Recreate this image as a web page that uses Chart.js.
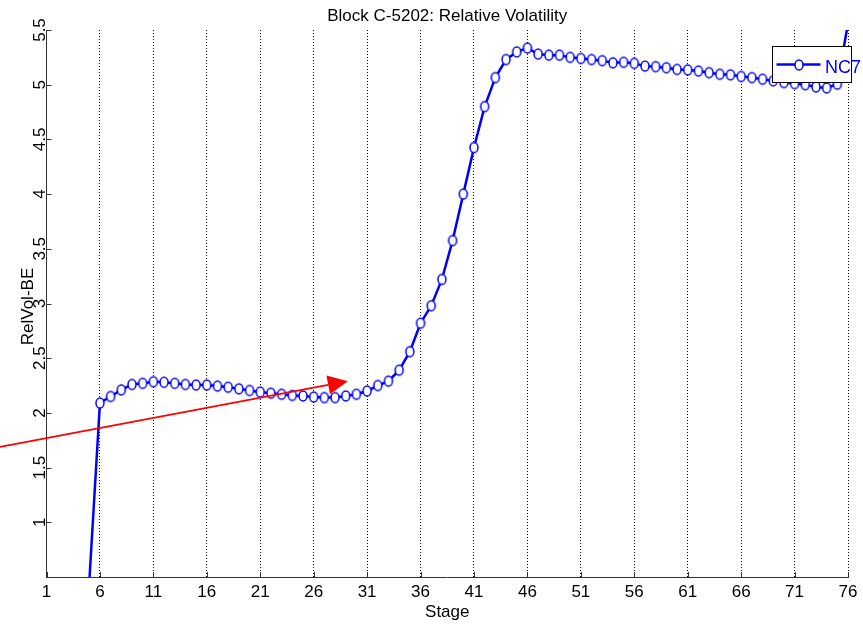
<!DOCTYPE html>
<html>
<head>
<meta charset="utf-8">
<script src="https://cdn.jsdelivr.net/npm/chart.js@4.4.1/dist/chart.umd.min.js"></script>
<style>
  html, body { margin: 0; padding: 0; background: #fff; }
</style>
</head>
<body>
<canvas id="myChart" width="863" height="624"></canvas>
<script>
// stage numbers and relative volatility of NC7
var stages = [5, 6, 7, 8, 9, 10, 11, 12, 13, 14, 15, 16, 17, 18, 19, 20,
    21, 22, 23, 24, 25, 26, 27, 28, 29, 30, 31, 32, 33, 34, 35, 36, 37, 38, 39, 40,
    41, 42, 43, 44, 45, 46, 47, 48, 49, 50, 51, 52, 53, 54, 55, 56, 57, 58, 59, 60,
    61, 62, 63, 64, 65, 66, 67, 68, 69, 70, 71, 72, 73, 74, 75, 76];
var relVolNC7 = [0.45, 2.09, 2.15, 2.21, 2.26, 2.27, 2.285, 2.28, 2.27, 2.26, 2.255, 2.255, 2.245, 2.235, 2.22, 2.205,
    2.19, 2.18, 2.17, 2.16, 2.155, 2.145, 2.14, 2.14, 2.155, 2.17, 2.2, 2.25, 2.29, 2.39, 2.56, 2.82, 2.98, 3.22, 3.575, 4.0,
    4.425, 4.8, 5.065, 5.23, 5.3, 5.335, 5.28, 5.27, 5.27, 5.25, 5.24, 5.23, 5.22, 5.2, 5.205, 5.195, 5.17, 5.165, 5.155, 5.14,
    5.135, 5.125, 5.11, 5.095, 5.09, 5.075, 5.065, 5.05, 5.035, 5.02, 5.01, 5.0, 4.98, 4.97, 5.005, 5.56];
var xTickValues = [1, 6, 11, 16, 21, 26, 31, 36, 41, 46, 51, 56, 61, 66, 71, 76];
var yTickValues = [1, 1.5, 2, 2.5, 3, 3.5, 4, 4.5, 5, 5.5];
var seriesName = 'NC7';
// red annotation arrow, in data units (stage, relvol)
var arrowFrom = [-3.35, 1.69];
var arrowTo = [29.2, 2.29];

var FONT = '"Liberation Sans", Arial, Helvetica, sans-serif';
var BLUE = '#0000ff';

function makeMarker() {
    var c = document.createElement('canvas');
    c.width = 12;
    c.height = 14;
    var g = c.getContext('2d');
    g.beginPath();
    g.ellipse(6, 7, 4.0, 5.0, 0, 0, Math.PI * 2);
    g.fillStyle = '#ffffff';
    g.fill();
    g.lineWidth = 1.5;
    g.strokeStyle = BLUE;
    g.stroke();
    return c;
}
var marker = makeMarker();

var overlay = {
    id: 'overlay',
    afterDraw: function(chart) {
        var ctx = chart.ctx;
        var area = chart.chartArea;
        var xs = chart.scales.x;
        var ys = chart.scales.y;
        ctx.save();

        // inward tick marks
        ctx.strokeStyle = '#333';
        ctx.lineWidth = 1;
        ctx.beginPath();
        yTickValues.forEach(function(v) {
            var y = Math.round(ys.getPixelForValue(v)) + 0.5;
            ctx.moveTo(area.left, y);
            ctx.lineTo(area.left + 5, y);
        });
        xTickValues.forEach(function(v) {
            var x = Math.round(xs.getPixelForValue(v)) + 0.5;
            ctx.moveTo(x, area.bottom);
            ctx.lineTo(x, area.bottom - 5);
        });
        ctx.stroke();

        // rotated y tick labels and y title
        ctx.fillStyle = '#000';
        ctx.font = '17px ' + FONT;
        ctx.textAlign = 'center';
        ctx.textBaseline = 'alphabetic';
        yTickValues.forEach(function(v) {
            ctx.save();
            ctx.translate(area.left - 2, ys.getPixelForValue(v));
            ctx.rotate(-Math.PI / 2);
            ctx.fillText(String(v), 0, 0);
            ctx.restore();
        });
        ctx.save();
        ctx.translate(area.left - 13.5, (area.top + area.bottom) / 2 + 3);
        ctx.rotate(-Math.PI / 2);
        ctx.fillText('RelVol-BE', 0, 0);
        ctx.restore();

        // red arrow
        var x0 = xs.getPixelForValue(arrowFrom[0]), y0 = ys.getPixelForValue(arrowFrom[1]);
        var x1 = xs.getPixelForValue(arrowTo[0]), y1 = ys.getPixelForValue(arrowTo[1]);
        var dx = x1 - x0, dy = y1 - y0;
        var len = Math.sqrt(dx * dx + dy * dy);
        var ux = dx / len, uy = dy / len;
        var hl = 20, hw = 9.5;
        var bx = x1 - ux * hl, by = y1 - uy * hl;
        ctx.strokeStyle = '#ff0000';
        ctx.fillStyle = '#ff0000';
        ctx.lineWidth = 1.8;
        ctx.beginPath();
        ctx.moveTo(x0, y0);
        ctx.lineTo(bx, by);
        ctx.stroke();
        ctx.beginPath();
        ctx.moveTo(x1, y1);
        ctx.lineTo(bx - uy * hw, by + ux * hw);
        ctx.lineTo(bx + uy * hw, by - ux * hw);
        ctx.closePath();
        ctx.fill();

        // legend box
        var lx = Math.round(area.right - 76) + 0.5;
        var ly = Math.round(area.top + 16) + 0.5;
        var lw = 79, lh = 36;
        ctx.fillStyle = '#fff';
        ctx.fillRect(lx, ly, lw, lh);
        ctx.strokeStyle = '#000';
        ctx.lineWidth = 1;
        ctx.strokeRect(lx, ly, lw, lh);
        var my = ly + lh / 2;
        ctx.strokeStyle = BLUE;
        ctx.lineWidth = 2.5;
        ctx.beginPath();
        ctx.moveTo(lx + 4, my);
        ctx.lineTo(lx + 48, my);
        ctx.stroke();
        ctx.drawImage(marker, Math.round(lx + 26 - 6), Math.round(my - 7));
        ctx.fillStyle = BLUE;
        ctx.textAlign = 'left';
        ctx.font = '18px ' + FONT;
        ctx.fillText(chart.data.datasets[0].label, lx + 52.5, ly + 26);

        ctx.restore();
    }
};

var ctx = document.getElementById('myChart');
var myChart = new Chart(ctx, {
    type: 'line',
    data: {
        datasets: [ {
            label: seriesName,
            data: stages.map(function(s, i) { return { x: s, y: relVolNC7[i] }; }),
            borderColor: BLUE,
            backgroundColor: '#fff',
            borderWidth: 2.5,
            tension: 0,
            pointStyle: marker,
            pointRadius: function(c) {
                var v = c.raw ? c.raw.y : null;
                return (v !== null && v >= 0.5 && v <= 5.5) ? 4 : 0;
            }
        } ]
    },
    options: {
        responsive: false,
        devicePixelRatio: 1,
        animation: false,
        layout: { padding: { left: 0, right: 15, top: 0, bottom: 0 } },
        plugins: {
            legend: { display: false },
            tooltip: { enabled: false },
            title: {
                display: true,
                text: 'Block C-5202: Relative Volatility',
                fullSize: false,
                color: '#000',
                font: { family: FONT, size: 17, weight: 'normal' },
                padding: { top: 6, bottom: 3.6 }
            }
        },
        scales: {
            x: {
                type: 'linear',
                min: 1,
                max: 76,
                afterBuildTicks: function(s) {
                    s.ticks = xTickValues.map(function(v) { return { value: v }; });
                },
                afterFit: function(s) { s.height = 47; },
                ticks: {
                    autoSkip: false,
                    maxRotation: 0,
                    minRotation: 0,
                    padding: 5,
                    color: '#000',
                    font: { family: FONT, size: 17 },
                    callback: function(v) { return String(v); }
                },
                grid: { display: true, drawTicks: false, color: '#000', lineWidth: 1 },
                border: { display: true, color: '#333', width: 1, dash: [1, 2] },
                title: {
                    display: true,
                    text: 'Stage',
                    color: '#000',
                    font: { family: FONT, size: 17 },
                    padding: { top: 0, bottom: 1.6 }
                }
            },
            y: {
                type: 'linear',
                min: 0.5,
                max: 5.5,
                afterBuildTicks: function(s) {
                    s.ticks = yTickValues.map(function(v) { return { value: v }; });
                },
                afterFit: function(s) { s.width = 46.5; },
                ticks: { display: false },
                grid: { display: false },
                border: { display: true, color: '#333', width: 1 }
            }
        }
    },
    plugins: [ overlay ]
});
</script>
</body>
</html>
